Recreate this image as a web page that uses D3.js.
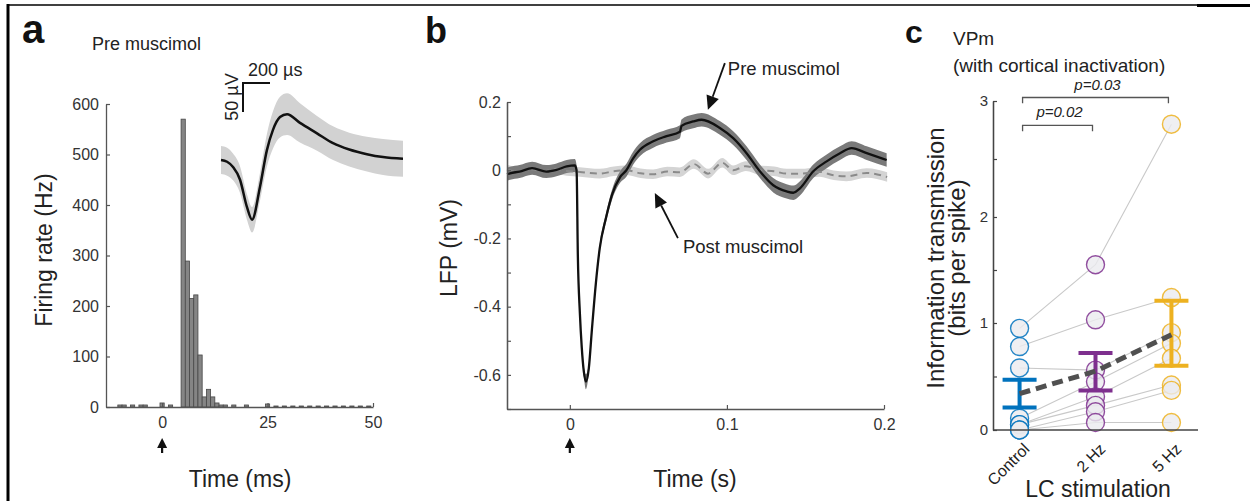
<!DOCTYPE html>
<html><head><meta charset="utf-8">
<script src="https://cdn.jsdelivr.net/npm/d3@7"></script>
<style>body{margin:0;background:#fff}svg{display:block}</style>
</head><body><svg id="c" width="1250" height="501"></svg>
<script>
// ---------- Panel a: PSTH (1 ms bins, centres in ms) ----------
const psthTime = [-10,-9,-7,-5,-4,0,2,5,6,7,8,9,10,11,12,13,14,15,17,20,25,27,29,31,33,35,37,39,41,43,45,47,49];
const psthRate = [4,4,4,4,4,8,4,570,289,215,222,103,20,35,20,8,4,4,4,4,6,2,2,2,2,2,2,2,2,2,2,2,2];
const rateTicks = [0,100,200,300,400,500,600];
const rateLabels = ["0","100","200","300","400","500","600"];
const timeTicksA = [0,25,50];
const timeLabelsA = ["0","25","50"];
// spike waveform inset (µs, µV)
const waveT  = [0,45,89,141,192,230,289,340,385,437,489,585,711,830,950,1081,1200,1348];
const waveV  = [0,-3,-12,-34,-81,-103,-46,17,52,74,79,64,46,29,18,10,5,2];
const waveSD = [24,24,23,23,22,22,24,28,32,35,36,34,30,29,29,30,31,31];

// ---------- Panel b: LFP (s, mV) ----------
const preT = [-0.040,-0.038,-0.032,-0.024,-0.015,-0.0085,-0.002,0.0032,0.0043,0.0051,0.0064,0.0076,0.0089,0.0102,0.0121,0.014,0.0166,0.019,0.023,0.027,0.032,0.036,0.0403,0.0446,0.0531,0.0616,0.0701,0.0711,0.0786,0.0839,0.0955,0.104,0.1125,0.121,0.1295,0.138,0.1423,0.1465,0.155,0.1635,0.172,0.1794,0.189,0.2017];
const preV = [-0.012,-0.009,-0.004,0.006,-0.004,0.001,0.011,0.014,0.0,-0.25,-0.42,-0.52,-0.59,-0.62,-0.58,-0.47,-0.33,-0.23,-0.14,-0.07,-0.02,0.0,0.035,0.06,0.085,0.10,0.113,0.13,0.143,0.148,0.124,0.094,0.05,-0.003,-0.044,-0.062,-0.066,-0.053,-0.003,0.026,0.05,0.065,0.05,0.03];
const preSD = [0.019,0.019,0.019,0.019,0.019,0.019,0.019,0.019,0.015,0.012,0.012,0.012,0.014,0.022,0.014,0.012,0.012,0.012,0.013,0.015,0.017,0.019,0.019,0.019,0.019,0.019,0.019,0.019,0.02,0.02,0.02,0.02,0.02,0.02,0.021,0.021,0.021,0.021,0.02,0.02,0.02,0.02,0.02,0.02];
const postT = [-0.040,-0.033,-0.025,-0.017,-0.009,-0.002,0.0064,0.019,0.028,0.036,0.045,0.053,0.062,0.07,0.079,0.088,0.097,0.104,0.112,0.121,0.13,0.138,0.1465,0.159,0.168,0.176,0.189,0.202];
const postV = [0.002,-0.004,0.003,-0.003,0.004,-0.002,-0.005,-0.01,-0.003,0.0,-0.009,-0.012,-0.004,-0.006,0.018,-0.01,0.022,0.0,0.012,0.0,-0.003,-0.01,-0.01,-0.005,-0.015,-0.018,-0.008,-0.02];
const postSD = [0.014,0.014,0.014,0.014,0.014,0.014,0.014,0.014,0.014,0.014,0.014,0.014,0.014,0.014,0.014,0.014,0.014,0.014,0.014,0.014,0.014,0.014,0.014,0.014,0.014,0.014,0.014,0.014];
const lfpMajor = [-0.6,-0.4,-0.2,0,0.2];
const lfpMajorLabels = ["-0.6","-0.4","-0.2","0","0.2"];
const lfpMinor = [-0.7,-0.5,-0.3,-0.1,0.1];
const timeTicksB = [0,0.1,0.2];
const timeLabelsB = ["0","0.1","0.2"];

// ---------- Panel c: information transmission ----------
const conds = ["Control","2 Hz","5 Hz"];
const condColors = ["#0072BD","#7E2F8E","#EDB120"];
const infoControl = [0.95,0.78,0.58,0.11,0.05,0.05,0.0,0.0];
const info2Hz     = [1.55,1.03,0.56,0.45,0.31,0.23,0.17,0.07];
const info5Hz     = [2.80,1.24,0.91,0.81,0.67,0.42,0.37,0.07];
const infoMean = [0.34,0.55,0.89];
const infoSemLo = [0.21,0.37,0.60];
const infoSemHi = [0.47,0.72,1.21];
const infoMajor = [0,1,2,3];
const infoMajorLabels = ["0","1","2","3"];
const infoMinor = [0.5,1.5,2.5];
const brackets = [
  {from:"Control", to:"5 Hz", y:3.03, label:"p=0.03"},
  {from:"Control", to:"2 Hz", y:2.79, label:"p=0.02"}
];

// =====================================================
const FONT = '"Liberation Sans", Arial, Helvetica, sans-serif';
const svg = d3.select("#c").attr("font-family", FONT);
const AX = "#555", TXT = "#222";

// frame lines
svg.append("line").attr("x1",8).attr("x2",8).attr("y1",4).attr("y2",501).attr("stroke","#000").attr("stroke-width",3);
svg.append("line").attr("x1",7).attr("x2",1197).attr("y1",5).attr("y2",5).attr("stroke","#000").attr("stroke-width",1.5);
svg.append("line").attr("x1",1197).attr("x2",1250).attr("y1",5.5).attr("y2",5.5).attr("stroke","#000").attr("stroke-width",3);

function styleAxis(g, fs, col) {
  g.select(".domain").attr("stroke", col || AX).attr("stroke-width", 1.3);
  g.selectAll(".tick line").attr("stroke", col || AX).attr("stroke-width", 1.2);
  g.selectAll(".tick text").attr("fill", "#333").attr("font-size", fs).attr("font-family", FONT);
}
function text(x, y, s, o = {}) {
  const t = svg.append("text").attr("x", x).attr("y", y).text(s)
    .attr("font-size", o.fs || 16).attr("fill", o.fill || TXT)
    .attr("text-anchor", o.anchor || "start");
  if (o.bold) t.attr("font-weight", "bold");
  if (o.italic) t.attr("font-style", "italic");
  if (o.transform) t.attr("transform", o.transform).attr("x", 0).attr("y", 0);
  return t;
}
function upArrow(x, yTop, yBot) {
  svg.append("line").attr("x1", x).attr("x2", x).attr("y1", yTop + 6).attr("y2", yBot)
    .attr("stroke", "#111").attr("stroke-width", 2.2);
  svg.append("path").attr("d", `M${x},${yTop} L${x-5},${yTop+10} L${x+5},${yTop+10} Z`).attr("fill", "#111");
}

// ---------------- Panel a ----------------
const xA = d3.scaleLinear().domain([-13.3, 50]).range([106, 373]);
const yA = d3.scaleLinear().domain([0, 600]).range([407, 104]);
const gA = svg.append("g");
gA.selectAll("rect.bar").data(psthTime.map((t, i) => ({t, r: psthRate[i]}))).join("rect")
  .attr("x", d => xA(d.t - 0.5)).attr("width", d => xA(d.t + 0.5) - xA(d.t - 0.5))
  .attr("y", d => yA(d.r)).attr("height", d => yA(0) - yA(d.r))
  .attr("fill", "#858585").attr("stroke", "#484848").attr("stroke-width", 0.8);
const axAy = gA.append("g").attr("transform", `translate(${xA.range()[0]},0)`)
  .call(d3.axisLeft(yA).tickValues(rateTicks).tickFormat((d, i) => rateLabels[i]).tickSizeInner(-4).tickSizeOuter(0).tickPadding(7));
styleAxis(axAy, 16);
const axAx = gA.append("g").attr("transform", `translate(0,${yA(0)})`)
  .call(d3.axisBottom(xA).tickValues(timeTicksA).tickFormat((d, i) => timeLabelsA[i]).tickSizeInner(-4).tickSizeOuter(0).tickPadding(10));
styleAxis(axAx, 16);
upArrow(xA(0), 438, 453);
text(240, 487, "Time (ms)", {fs: 23, anchor: "middle"});
text(0, 0, "Firing rate (Hz)", {fs: 23, anchor: "middle", transform: "translate(52,250) rotate(-90)"});
text(22, 43, "a", {fs: 40, bold: true, fill: "#111"});
text(92, 50, "Pre muscimol", {fs: 18});

// inset waveform
const xW = d3.scaleLinear().domain([0, 1348]).range([221, 403]);
const yW = d3.scaleLinear().domain([0, 50]).range([160, 131]);
const wave = waveT.map((t, i) => ({t, v: waveV[i], s: waveSD[i]}));
gA.append("path").datum(wave)
  .attr("d", d3.area().x(d => xW(d.t)).y0(d => yW(d.v - d.s)).y1(d => yW(d.v + d.s)).curve(d3.curveMonotoneX))
  .attr("fill", "#d2d2d2");
gA.append("path").datum(wave)
  .attr("d", d3.line().x(d => xW(d.t)).y(d => yW(d.v)).curve(d3.curveMonotoneX))
  .attr("fill", "none").attr("stroke", "#111").attr("stroke-width", 2.5);
// scale bar (200 µs, 50 µV)
const sbX = 243, sbY = 83;
gA.append("path").attr("d", `M${sbX},${sbY + (yW(0) - yW(50))} V${sbY} H${sbX + (xW(200) - xW(0))}`)
  .attr("fill", "none").attr("stroke", "#111").attr("stroke-width", 2);
text(248, 76, "200 µs", {fs: 18});
text(0, 0, "50 µV", {fs: 18, anchor: "middle", transform: `translate(238,97) rotate(-90)`});

// ---------------- Panel b ----------------
const xB = d3.scaleLinear().domain([-0.04, 0.2]).range([507, 884]);
const yB = d3.scaleLinear().domain([-0.7, 0.2]).range([409, 102]);
const gB = svg.append("g");
const pre = preT.map((t, i) => ({t, v: preV[i], s: preSD[i]}));
const post = postT.map((t, i) => ({t, v: postV[i], s: postSD[i]}));
const areaB = d3.area().x(d => xB(d.t)).y0(d => yB(d.v - d.s)).y1(d => yB(d.v + d.s)).curve(d3.curveMonotoneX);
const lineB = d3.line().x(d => xB(d.t)).y(d => yB(d.v)).curve(d3.curveMonotoneX);
gB.append("path").datum(post).attr("d", areaB).attr("fill", "#d4d4d4");
gB.append("path").datum(pre).attr("d", areaB).attr("fill", "#7a7a7a");
gB.append("path").datum(post).attr("d", lineB).attr("fill", "none").attr("stroke", "#8a8a8a").attr("stroke-width", 2).attr("stroke-dasharray", "7,5");
gB.append("path").datum(pre).attr("d", lineB).attr("fill", "none").attr("stroke", "#111").attr("stroke-width", 2.3);
const axBy = gB.append("g").attr("transform", `translate(${xB.range()[0]},0)`)
  .call(d3.axisLeft(yB).tickValues(lfpMajor).tickFormat((d, i) => lfpMajorLabels[i]).tickSizeInner(-4).tickSizeOuter(0).tickPadding(6));
styleAxis(axBy, 16);
const axByMinor = gB.append("g").attr("transform", `translate(${xB.range()[0]},0)`)
  .call(d3.axisLeft(yB).tickValues(lfpMinor).tickFormat("").tickSizeInner(-4).tickSizeOuter(0));
styleAxis(axByMinor, 16);
const axBx = gB.append("g").attr("transform", `translate(0,${yB.range()[0]})`)
  .call(d3.axisBottom(xB).tickValues(timeTicksB).tickFormat((d, i) => timeLabelsB[i]).tickSizeInner(-4).tickSizeOuter(0).tickPadding(10));
styleAxis(axBx, 16);
upArrow(xB(0), 438, 453);
text(695, 487, "Time (s)", {fs: 23, anchor: "middle"});
text(0, 0, "LFP (mV)", {fs: 23, anchor: "middle", transform: "translate(457,248) rotate(-90)"});
text(425, 43, "b", {fs: 36, bold: true, fill: "#111"});
// annotations (data units)
function annArrow(t1, v1, t2, v2) {
  const x1 = xB(t1), y1 = yB(v1), x2 = xB(t2), y2 = yB(v2);
  const ang = Math.atan2(y2 - y1, x2 - x1), L = 14, W = 6.5;
  const bx = x2 - L * Math.cos(ang), by = y2 - L * Math.sin(ang);
  gB.append("line").attr("x1", x1).attr("y1", y1).attr("x2", bx).attr("y2", by).attr("stroke", "#111").attr("stroke-width", 1.8);
  gB.append("path").attr("d", `M${x2},${y2} L${bx + W*Math.sin(ang)},${by - W*Math.cos(ang)} L${bx - W*Math.sin(ang)},${by + W*Math.cos(ang)} Z`).attr("fill", "#111");
}
annArrow(0.0987, 0.314, 0.0879, 0.177);
annArrow(0.0688, -0.199, 0.0541, -0.067);
text(xB(0.1006), yB(0.279), "Pre muscimol", {fs: 18.5});
text(xB(0.072), yB(-0.243), "Post muscimol", {fs: 18.5});

// ---------------- Panel c ----------------
const xC = d3.scalePoint().domain(conds).range([993, 1198]).padding(0.35);
const yC = d3.scaleLinear().domain([0, 1, 2, 3]).range([430, 323, 217, 101]);
const gC = svg.append("g");
const neurons = infoControl.map((v, i) => [v, info2Hz[i], info5Hz[i]]);
gC.selectAll("path.pair").data(neurons).join("path")
  .attr("d", d => d3.line().x((v, j) => xC(conds[j])).y(v => yC(v))(d))
  .attr("fill", "none").attr("stroke", "#c9c9c9").attr("stroke-width", 1.1);
const pts = [];
neurons.forEach(n => n.forEach((v, j) => pts.push({c: conds[j], v, col: condColors[j]})));
gC.selectAll("circle").data(pts).join("circle")
  .attr("cx", d => xC(d.c)).attr("cy", d => yC(d.v)).attr("r", 9)
  .attr("fill", "#ebebef").attr("fill-opacity", 0.8)
  .attr("stroke", d => d.col).attr("stroke-opacity", 0.85).attr("stroke-width", 1.4);
conds.forEach((c, j) => {
  const x = xC(c), cw = 17;
  gC.append("path").attr("d", `M${x},${yC(infoSemLo[j])} V${yC(infoSemHi[j])} M${x - cw},${yC(infoSemHi[j])} H${x + cw} M${x - cw},${yC(infoSemLo[j])} H${x + cw}`)
    .attr("stroke", condColors[j]).attr("stroke-width", 4).attr("fill", "none");
});
gC.append("path").datum(infoMean)
  .attr("d", d3.line().x((v, j) => xC(conds[j])).y(v => yC(v)))
  .attr("fill", "none").attr("stroke", "#505050").attr("stroke-width", 5).attr("stroke-dasharray", "11,6");
const axCy = gC.append("g").attr("transform", `translate(993,0)`)
  .call(d3.axisLeft(yC).tickValues(infoMajor).tickFormat((d, i) => infoMajorLabels[i]).tickSizeInner(-4).tickSizeOuter(0).tickPadding(5));
styleAxis(axCy, 15, "#444");
const axCyMinor = gC.append("g").attr("transform", `translate(993,0)`)
  .call(d3.axisLeft(yC).tickValues(infoMinor).tickFormat("").tickSizeInner(-4).tickSizeOuter(0));
styleAxis(axCyMinor, 15, "#444");
gC.append("line").attr("x1", 993).attr("x2", 1198).attr("y1", yC(0)).attr("y2", yC(0)).attr("stroke", "#444").attr("stroke-width", 1.3);
conds.forEach(c => {
  text(0, 0, c, {fs: 16, anchor: "end", transform: `translate(${xC(c) + 7},446) rotate(-45)`}).attr("dy", "0.35em");
});
brackets.forEach(b => {
  const x1 = xC(b.from) + 3, x2 = xC(b.to) - 3, y = yC(b.y), y2 = yC(b.y - 0.05);
  gC.append("path").attr("d", `M${x1},${y2} V${y} H${x2} V${y2}`).attr("fill", "none").attr("stroke", "#555").attr("stroke-width", 1.3);
  text((x1 + x2) / 2 + 2, y - 8, b.label, {fs: 15, italic: true, anchor: "middle"});
});
text(1098, 497, "LC stimulation", {fs: 23, anchor: "middle"});
const yl = text(0, 0, "", {fs: 24, anchor: "middle", transform: "translate(944,258) rotate(-90)"});
yl.append("tspan").attr("x", 0).attr("dy", 0).text("Information transmission");
yl.append("tspan").attr("x", 0).attr("dy", 21).text("(bits per spike)");
text(905, 43, "c", {fs: 32, bold: true, fill: "#111"});
text(953, 45, "VPm", {fs: 19});
text(953, 72, "(with cortical inactivation)", {fs: 19});
</script></body></html>
